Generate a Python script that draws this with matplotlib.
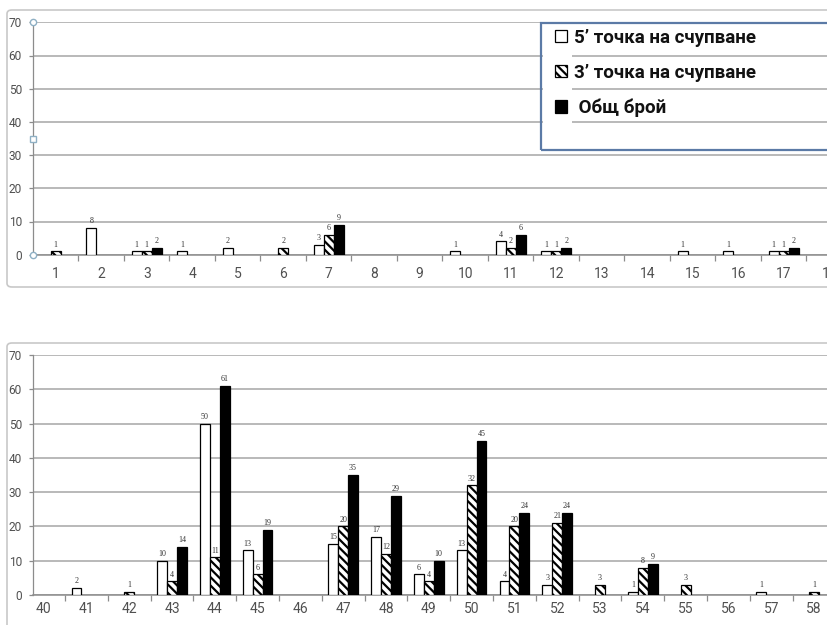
import matplotlib
matplotlib.use("Agg")
import matplotlib.pyplot as plt
from matplotlib.patches import Rectangle, FancyBboxPatch
from matplotlib.ticker import FixedLocator
import numpy as np

# ---------------- data ----------------
top_cats = [str(i) for i in range(1, 19)]
top_5p = [0, 8, 1, 1, 2, 0, 3, 0, 0, 1, 4, 1, 0, 0, 1, 1, 1, 0]
top_3p = [1, 0, 1, 0, 0, 2, 6, 0, 0, 0, 2, 1, 0, 0, 0, 0, 1, 0]
top_total = [0, 0, 2, 0, 0, 0, 9, 0, 0, 0, 6, 2, 0, 0, 0, 0, 2, 0]

bot_cats = [str(i) for i in range(40, 59)]
bot_5p = [0, 2, 0, 10, 50, 13, 0, 15, 17, 6, 13, 4, 3, 0, 1, 0, 0, 1, 0]
bot_3p = [0, 0, 1, 4, 11, 6, 0, 20, 12, 4, 32, 20, 21, 3, 8, 3, 0, 0, 1]
bot_total = [0, 0, 0, 14, 61, 19, 0, 35, 29, 10, 45, 24, 24, 0, 9, 0, 0, 0, 0]

series_names = ["5’ точка на счупване", "3’ точка на счупване", " Общ брой"]
y_ticks = [0, 10, 20, 30, 40, 50, 60, 70]

# ---------------- style ----------------
plt.rcParams["hatch.linewidth"] = 1.6
W, H = 828, 625
TICK_FONT = ["Roboto", "DejaVu Sans"]
LBL_FONT = ["Liberation Serif", "DejaVu Serif"]
GRID = "#a6a6a6"
AXC = "#8c8c8c"
TXT = "#505050"

fig = plt.figure(figsize=(W / 100, H / 100), dpi=100)
fig.patch.set_facecolor("white")


def fy(py):
    return 1 - py / H


def draw_panel(ax, cats, s5, s3, tot, width, xlim, xpad):
    x = np.arange(len(cats))
    styles = [
        dict(facecolor="white", edgecolor="black", hatch=None),
        dict(facecolor="white", edgecolor="black", hatch="\\\\\\\\"),
        dict(facecolor="black", edgecolor="black", hatch=None),
    ]
    for k, (vals, st) in enumerate(zip([s5, s3, tot], styles)):
        vals = np.asarray(vals, dtype=float)
        idx = np.nonzero(vals > 0)[0]
        xs = x[idx] + (k - 1) * width
        ax.bar(xs, vals[idx], width=width, linewidth=0.9, zorder=3, **st)
        for xi, v in zip(xs, vals[idx]):
            ax.annotate(f"{int(v)}", (xi, v), xytext=(0, 2), textcoords="offset points",
                        ha="center", va="bottom", fontsize=5.8, family=LBL_FONT,
                        color="#333333", zorder=4)
    ax.set_xlim(*xlim)
    ax.set_ylim(0, 70)
    ax.set_yticks(y_ticks)
    ax.set_yticklabels([str(t) for t in y_ticks])
    ax.set_xticks(x)
    ax.set_xticklabels(cats)
    ax.xaxis.set_minor_locator(FixedLocator(x[:-1] + 0.5))
    ax.tick_params(axis="x", which="major", length=0, pad=xpad, labelsize=10,
                   labelcolor=TXT)
    ax.tick_params(axis="x", which="minor", length=4, width=0.9, color=AXC,
                   direction="out")
    ax.tick_params(axis="y", length=3, width=0.9, color=AXC, pad=5, labelsize=8.6,
                   labelcolor=TXT)
    for lab in ax.get_xticklabels() + ax.get_yticklabels():
        lab.set_family(TICK_FONT)
    ax.grid(axis="y", color=GRID, linewidth=1.1, zorder=0)
    ax.set_axisbelow(True)
    for s in ["top", "right"]:
        ax.spines[s].set_visible(False)
    ax.spines["left"].set_color(AXC)
    ax.spines["bottom"].set_color(AXC)
    ax.spines["left"].set_linewidth(0.9)
    ax.spines["bottom"].set_linewidth(1.1)
    ax.patch.set_alpha(0)
    ax.set_zorder(2)


# panel frames
fig.patches.append(FancyBboxPatch((7 / W, fy(287)), (900 - 7) / W, (287 - 10) / H,
                                  boxstyle="round,pad=0,rounding_size=0.006",
                                  transform=fig.transFigure, facecolor="none",
                                  edgecolor="#c8c8c8", linewidth=1.2, zorder=0))
fig.patches.append(FancyBboxPatch((7 / W, fy(660)), (900 - 7) / W, (660 - 343) / H,
                                  boxstyle="round,pad=0,rounding_size=0.006",
                                  transform=fig.transFigure, facecolor="none",
                                  edgecolor="#c8c8c8", linewidth=1.2, zorder=0))

# top panel
ax1 = fig.add_axes([33 / W, fy(254.7), (852 - 33) / W, (254.7 - 22.3) / H])
draw_panel(ax1, top_cats, top_5p, top_3p, top_total, 0.22, (-0.5, 17.5), 9)

# bottom panel
ax2 = fig.add_axes([33 / W, fy(595), (835.4 - 33) / W, (595 - 355) / H])
draw_panel(ax2, bot_cats, bot_5p, bot_3p, bot_total, 0.23, (-0.248, 18.5), 5)

# selection handles on top panel's vertical axis
for yy, mk in [(1.0, "o"), (0.0, "o"), (0.5, "s")]:
    ax1.plot([0], [yy], transform=ax1.transAxes, marker=mk, ms=4.5,
             mfc="white", mec="#8fb0c4", mew=1.0, clip_on=False, zorder=6)

# legend box (extends beyond the right edge) and a white area behind the keys
ax1.add_patch(Rectangle((543 / W, fy(148)), (572 - 543) / W, (148 - 24) / H,
                        transform=fig.transFigure, facecolor="white",
                        edgecolor="none", zorder=4, clip_on=False))
ax1.add_patch(Rectangle((541 / W, fy(150)), (900 - 541) / W, (150 - 22.7) / H,
                        transform=fig.transFigure, facecolor="none",
                        edgecolor="#5b7aa6", linewidth=1.6, zorder=6, clip_on=False))

handles = [
    Rectangle((0, 0), 1, 1, facecolor="white", edgecolor="black", linewidth=0.9),
    Rectangle((0, 0), 1, 1, facecolor="white", edgecolor="black", linewidth=0.9,
              hatch="\\\\\\\\"),
    Rectangle((0, 0), 1, 1, facecolor="black", edgecolor="black", linewidth=0.9),
]
leg = ax1.legend(handles, series_names, loc="upper left",
                 bbox_to_anchor=(551 / W, fy(25)), bbox_transform=fig.transFigure,
                 frameon=False, prop=dict(family=["Roboto", "DejaVu Sans"],
                                          weight="bold", size=13.5),
                 handlelength=0.65, handleheight=0.65, handletextpad=0.4,
                 labelspacing=0.9, borderaxespad=0, borderpad=0.2)
for t in leg.get_texts():
    t.set_color("#111111")

fig.savefig("out.png", dpi=100, facecolor="white")
